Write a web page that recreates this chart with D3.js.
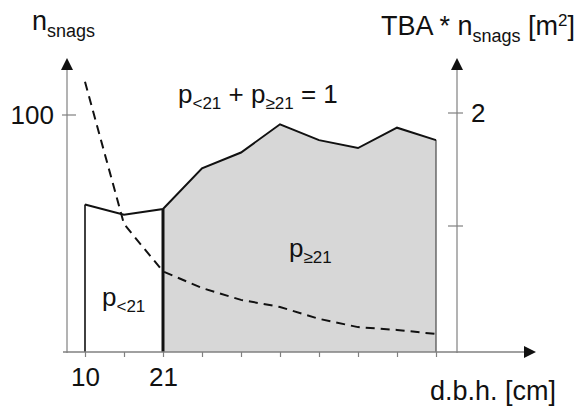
<!DOCTYPE html>
<html>
<head>
<meta charset="utf-8">
<script src="https://cdn.jsdelivr.net/npm/d3@7/dist/d3.min.js"></script>
<style>
  body { margin: 0; background: #fff; }
  text { font-family: "Liberation Sans", Arial, sans-serif; fill: #111; }
</style>
</head>
<body>
<svg id="chart" width="576" height="406"></svg>
<script>
// d.b.h. classes (index along the x axis) and their labels
const dbhClass = [0, 1, 2, 3, 4, 5, 6, 7, 8, 9];
const dbhLabels = ["10", "", "21", "", "", "", "", "", "", ""];
const splitClass = 2; // 21 cm threshold

// TBA * n_snags [m2], right axis (solid outline)
const tbaValues = [1.19, 1.10, 1.15, 1.51, 1.65, 1.90, 1.76, 1.69, 1.87, 1.76];
// n_snags, left axis (dashed line)
const snagCounts = [114, 54, 34, 27, 22, 19, 14, 10.5, 9.3, 7.6];

const leftTicks = [100];
const rightTicks = [1, 2];

const svg = d3.select("#chart");

// layout
const axisLeftX = 67, axisRightX = 457, baseY = 352, topY = 58, xEnd = 536;

const x = d3.scaleLinear().domain([0, 9]).range([85, 436]);
const yL = d3.scaleLinear().domain([0, 100]).range([baseY, 115]);
const yR = d3.scaleLinear().domain([0, 2]).range([339, 113]);

const rows = dbhClass.map((c, i) => ({ c, tba: tbaValues[i], n: snagCounts[i] }));
const leftPart = rows.filter(d => d.c <= splitClass);
const rightPart = rows.filter(d => d.c >= splitClass);

const area = d3.area()
    .x(d => x(d.c))
    .y0(baseY)
    .y1(d => yR(d.tba));

const line = d3.line()
    .x(d => x(d.c))
    .y(d => yR(d.tba));

// shaded part p>=21
svg.append("path")
    .datum(rightPart)
    .attr("d", area)
    .attr("fill", "#d7d7d7");

// white part p<21
svg.append("path")
    .datum(leftPart)
    .attr("d", area)
    .attr("fill", "#fff");

// right edge of the shaded part
svg.append("line")
    .attr("x1", x(9)).attr("x2", x(9))
    .attr("y1", baseY).attr("y2", yR(tbaValues[9]))
    .attr("stroke", "#555").attr("stroke-width", 1.3);

// left edge
svg.append("line")
    .attr("x1", x(0)).attr("x2", x(0))
    .attr("y1", baseY).attr("y2", yR(tbaValues[0]))
    .attr("stroke", "#111").attr("stroke-width", 1.6);

// outline top
svg.append("path")
    .datum(rows)
    .attr("d", line)
    .attr("fill", "none")
    .attr("stroke", "#111")
    .attr("stroke-width", 2)
    .attr("stroke-linejoin", "miter");

// thick divider at 21 cm
svg.append("line")
    .attr("x1", x(splitClass)).attr("x2", x(splitClass))
    .attr("y1", baseY).attr("y2", yR(tbaValues[splitClass]))
    .attr("stroke", "#111").attr("stroke-width", 3);

// dashed n_snags line
svg.append("path")
    .datum(rows)
    .attr("d", d3.line().x(d => x(d.c)).y(d => yL(d.n)))
    .attr("fill", "none")
    .attr("stroke", "#111")
    .attr("stroke-width", 2)
    .attr("stroke-dasharray", "9,6");

// ---- axes ----
const axisColor = "#808080";

// x axis with ticks
const xAxis = svg.append("g")
    .attr("transform", `translate(0,${baseY})`)
    .call(d3.axisBottom(x)
        .tickValues(dbhClass)
        .tickSize(5)
        .tickPadding(11)
        .tickFormat(i => dbhLabels[i]));
xAxis.select(".domain").remove();
xAxis.selectAll(".tick line").attr("stroke", axisColor).attr("stroke-width", 1.2);
xAxis.selectAll(".tick text")
    .attr("font-size", 26)
    .attr("font-family", "Liberation Sans, Arial, sans-serif")
    .attr("fill", "#111");

svg.append("line")
    .attr("x1", 63).attr("x2", xEnd - 12)
    .attr("y1", baseY).attr("y2", baseY)
    .attr("stroke", axisColor).attr("stroke-width", 1.3);
svg.append("path")
    .attr("d", `M${xEnd},${baseY} L${xEnd - 12},${baseY - 6} L${xEnd - 12},${baseY + 6} Z`)
    .attr("fill", "#111");

// left and right vertical axes
[axisLeftX, axisRightX].forEach(ax => {
    svg.append("line")
        .attr("x1", ax).attr("x2", ax)
        .attr("y1", baseY + 1).attr("y2", topY + 12)
        .attr("stroke", axisColor).attr("stroke-width", 1.2);
    svg.append("path")
        .attr("d", `M${ax},${topY} L${ax - 6},${topY + 12} L${ax + 6},${topY + 12} Z`)
        .attr("fill", "#111");
});

// left ticks
svg.selectAll(".ltick").data(leftTicks).enter().append("line")
    .attr("x1", axisLeftX - 5).attr("x2", axisLeftX + 9)
    .attr("y1", d => yL(d)).attr("y2", d => yL(d))
    .attr("stroke", axisColor).attr("stroke-width", 1.2);
svg.selectAll(".llab").data(leftTicks).enter().append("text")
    .attr("x", 54).attr("y", d => yL(d) + 9)
    .attr("text-anchor", "end")
    .attr("font-size", 26)
    .text(d => d);

// right ticks
svg.selectAll(".rtick").data(rightTicks).enter().append("line")
    .attr("x1", axisRightX - 9).attr("x2", axisRightX + 6)
    .attr("y1", d => yR(d)).attr("y2", d => yR(d))
    .attr("stroke", axisColor).attr("stroke-width", 1.2);
svg.selectAll(".rlab").data(rightTicks.filter(d => d === 2)).enter().append("text")
    .attr("x", 471).attr("y", d => yR(d) + 9)
    .attr("font-size", 26)
    .text(d => d);

// ---- titles / labels ----
const leftTitle = svg.append("text").attr("x", 32).attr("y", 30).attr("font-size", 27);
leftTitle.append("tspan").text("n");
leftTitle.append("tspan").attr("font-size", 18).attr("dy", 7).text("snags");

const rightTitle = svg.append("text").attr("x", 381).attr("y", 35).attr("font-size", 27);
rightTitle.append("tspan").text("TBA * n");
rightTitle.append("tspan").attr("font-size", 18).attr("dy", 7).text("snags");
rightTitle.append("tspan").attr("dy", -7).text(" [m");
rightTitle.append("tspan").attr("font-size", 17).attr("dy", -9).text("2");
rightTitle.append("tspan").attr("dy", 9).text("]");

svg.append("text")
    .attr("x", 556).attr("y", 400)
    .attr("text-anchor", "end")
    .attr("font-size", 27)
    .text("d.b.h. [cm]");

function pLabel(xPos, yPos, sub) {
    const t = svg.append("text").attr("x", xPos).attr("y", yPos).attr("font-size", 26);
    t.append("tspan").text("p");
    t.append("tspan").attr("font-size", 17).attr("dy", 6).text(sub);
    return t;
}

const eq = pLabel(178, 103, "<21");
eq.append("tspan").attr("dy", -6).text(" + p");
eq.append("tspan").attr("font-size", 17).attr("dy", 6).text("≥21");
eq.append("tspan").attr("dy", -6).text(" = 1");

pLabel(289, 257, "≥21");
pLabel(102, 306, "<21");
</script>
</body>
</html>
